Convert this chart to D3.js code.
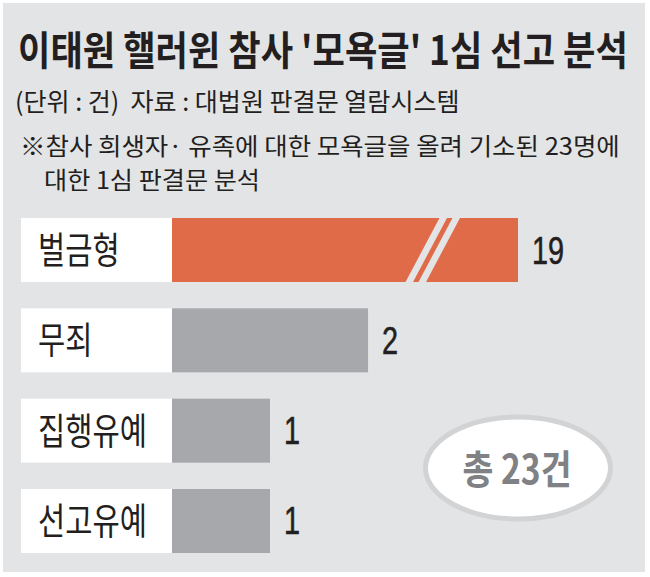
<!DOCTYPE html>
<html><head><meta charset="utf-8">
<script src="https://cdn.jsdelivr.net/npm/d3@7"></script>
<style>html,body{margin:0;padding:0;background:#fff;} svg{display:block;} text{white-space:pre;}</style>
</head><body>
<script>
// ---- data ----
const categories = ["벌금형", "무죄", "집행유예", "선고유예"];
const values = [19, 2, 1, 1];
const barColors = ["#e06b48", "#a7a8ab", "#a7a8ab", "#a7a8ab"];
const titleText = "이태원 핼러윈 참사 '모욕글' 1심 선고 분석";
const subtitleText = "(단위 : 건)  자료 : 대법원 판결문 열람시스템";
const noteLines = ["※참사 희생자· 유족에 대한 모욕글을 올려 기소된 23명에", "대한 1심 판결문 분석"];
const totalPrefix = "총 ", totalSuffix = "건";
const displayCap = 3.53; // bars longer than this are drawn broken

const W = 650, H = 577;
const BG = "#e3e4e6";
const KR = "'Noto Sans CJK KR','Noto Sans',sans-serif";
const NUM = "'Liberation Sans',Arial,sans-serif";

const svg = d3.select("body").append("svg").attr("width", W).attr("height", H);
svg.append("rect").attr("x", 3).attr("y", 3).attr("width", 642).attr("height", 569).attr("fill", BG);

// title & notes: horizontally condensed to the reference width
function fitText(x, y, txt, size, weight, len, color) {
  const t = svg.append("text").text(txt)
    .attr("font-family", KR).attr("font-size", size).attr("font-weight", weight)
    .attr("fill", color || "#231f20");
  const w = t.node().getComputedTextLength();
  t.attr("transform", `translate(${x},${y}) scale(${len / w},1)`);
  return t;
}
fitText(18, 65, titleText, 40, 700, 610);
fitText(15, 111, subtitleText, 25, 400, 445);
fitText(20, 155, noteLines[0], 24, 400, 600);
fitText(44, 189, noteLines[1], 24, 400, 216);

// scales
const y = d3.scaleBand().domain(categories).range([218, 553]).paddingInner(0.2915).paddingOuter(0);
const x = d3.scaleLinear().domain([0, displayCap]).range([172, 518]);
const labelX0 = 21;

const rows = svg.append("g").selectAll("g").data(categories.map((c, i) => ({c, v: values[i], col: barColors[i]})))
  .join("g");

rows.append("rect").attr("x", labelX0).attr("y", d => y(d.c)).attr("width", x(0) - labelX0)
  .attr("height", y.bandwidth()).attr("fill", "#fff");
rows.append("text")
  .attr("transform", d => `translate(38,${y(d.c) + y.bandwidth() / 2 + 14}) scale(0.8,1)`)
  .attr("font-family", KR).attr("font-size", 37).attr("fill", "#231f20").text(d => d.c);

rows.append("rect").attr("x", x(0)).attr("y", d => y(d.c))
  .attr("width", d => x(Math.min(d.v, displayCap)) - x(0))
  .attr("height", y.bandwidth()).attr("fill", d => d.col);

rows.append("text")
  .attr("transform", d => `translate(${x(Math.min(d.v, displayCap)) + 14},${y(d.c) + y.bandwidth() / 2 + 13.5}) scale(0.76,1)`)
  .attr("font-family", NUM).attr("font-size", 38).attr("fill", "#231f20")
  .attr("stroke", "#231f20").attr("stroke-width", 0.6).text(d => d.v);

// break marks on broken bars
rows.filter(d => d.v > displayCap).each(function(d) {
  const g = d3.select(this);
  const top = y(d.c), bot = y(d.c) + y.bandwidth();
  const slant = 35, w = 7.5;
  [0, 13].forEach(off => {
    const bx = x(displayCap) - 113 + off;
    g.append("path")
      .attr("d", `M${bx},${bot + 1}L${bx + w},${bot + 1}L${bx + w + slant},${top - 1}L${bx + slant},${top - 1}Z`)
      .attr("fill", BG);
  });
});

// total ellipse
const total = d3.sum(values);
svg.append("ellipse").attr("cx", 518).attr("cy", 468).attr("rx", 92.5).attr("ry", 51)
  .attr("fill", "#fff").attr("stroke", "#d2d3d5").attr("stroke-width", 5);
svg.append("text").attr("transform", "translate(517,484) scale(0.84,1)")
  .attr("text-anchor", "middle").attr("font-family", KR).attr("font-weight", 700)
  .attr("font-size", 40).attr("fill", "#808184").text(totalPrefix + total + totalSuffix);
</script>
</body></html>
